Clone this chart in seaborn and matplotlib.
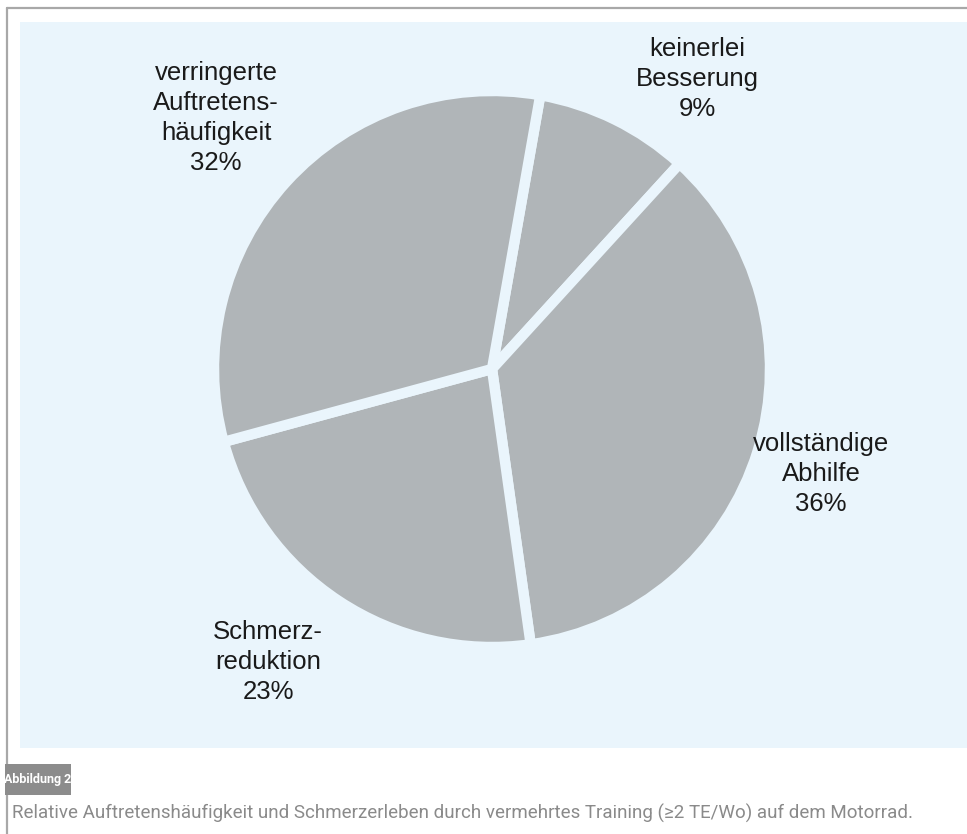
import matplotlib
matplotlib.use("Agg")
import matplotlib.pyplot as plt
from matplotlib.patches import Rectangle
from matplotlib.lines import Line2D
from matplotlib import font_manager
import seaborn as sns

# ---- data ----
categories = ["keinerlei\nBesserung", "vollständige\nAbhilfe", "Schmerz-\nreduktion",
              "verringerte\nAuftretens-\nhäufigkeit"]
values = [9, 36, 23, 32]
pct_labels = ["9%", "36%", "23%", "32%"]
figure_tag = "Abbildung 2"
caption = "Relative Auftretenshäufigkeit und Schmerzerleben durch vermehrtes Training (≥2 TE/Wo) auf dem Motorrad."

sns.set_theme(style="white")
plt.rcParams['font.family'] = ['Liberation Sans', 'DejaVu Sans']

names = {f.name for f in font_manager.fontManager.ttflist}
narrow = 'Liberation Sans Narrow' if 'Liberation Sans Narrow' in names else 'Roboto'

W, H = 967, 834
fig = plt.figure(figsize=(W / 100, H / 100), dpi=100)
fig.patch.set_facecolor("white")

def fx(px):
    return px / W

def fy(py):
    return 1 - py / H

panel_col = "#eaf5fc"
# background panel
fig.patches.append(Rectangle((fx(20), fy(748)), fx(967) - fx(20), fy(22) - fy(748),
                             transform=fig.transFigure, facecolor=panel_col,
                             edgecolor="none", zorder=-5))
# outer frame lines
fig.lines.append(Line2D([fx(7), fx(967)], [fy(8), fy(8)], transform=fig.transFigure,
                        color="#a8a8a8", lw=1.6, zorder=-4))
fig.lines.append(Line2D([fx(7), fx(7)], [fy(8), fy(834)], transform=fig.transFigure,
                        color="#a8a8a8", lw=1.6, zorder=-4))

# pie axes
cx, cy, r = 492, 369, 278
ax = fig.add_axes([fx(cx - r), fy(cy + r), 2 * r / W, 2 * r / H], zorder=2)
ax.set_facecolor("none")
ax.patch.set_alpha(0)
ax.pie(values, startangle=80, counterclock=False, radius=1.0,
       colors=["#b0b5b8"] * len(values),
       wedgeprops=dict(edgecolor=panel_col, linewidth=7.5, joinstyle="miter"))
ax.set_xlim(-1, 1)
ax.set_ylim(-1, 1)
ax.set_aspect("equal")
ax.axis("off")

label_pos = [(697, 79), (821, 474), (268, 662), (216, 118)]
for cat, pct, (px, py) in zip(categories, pct_labels, label_pos):
    ax.text((px - cx) / r, (cy - py) / r, cat + "\n" + pct, ha="center", va="center",
            fontsize=18.5, color="#1a1a1a", linespacing=1.3, clip_on=False)

# caption
fig.patches.append(Rectangle((fx(5), fy(795)), fx(71) - fx(5), fy(764) - fy(795),
                             transform=fig.transFigure, facecolor="#8c8c8c",
                             edgecolor="none", zorder=3))
fig.text(fx(38), fy(780), figure_tag, ha="center", va="center", color="white",
         fontsize=9, fontweight="bold",
         family=[narrow, 'DejaVu Sans'], zorder=4)
fig.text(fx(12), fy(813), caption, ha="left", va="center", color="#8a8a8a",
         fontsize=13.5, family=[narrow, 'DejaVu Sans'])

fig.savefig("out.png", dpi=100)
